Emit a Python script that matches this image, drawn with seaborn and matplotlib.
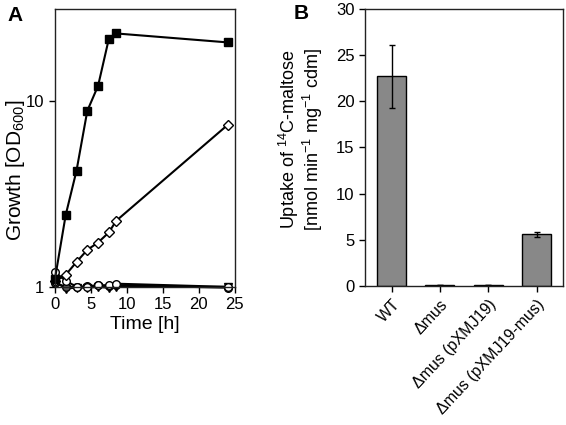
import matplotlib
matplotlib.use("Agg")
import matplotlib.pyplot as plt
import numpy as np
import pandas as pd
import seaborn as sns

# growth curves (panel A)
time_h = [0, 1.5, 3, 4.5, 6, 7.5, 8.5, 24]
od_wt = [1.1, 2.43, 4.2, 8.8, 12.0, 21.5, 22.9, 20.5]
od_diamond = [1.07, 1.16, 1.36, 1.58, 1.73, 1.96, 2.26, 7.4]
od_open_circle = [1.2, 1.08, 1.0, 1.0, 1.02, 1.02, 1.04, 1.0]
od_triangle = [1.07, 0.98, 0.99, 0.99, 1.0, 0.99, 1.0, 1.0]
od_grey_circle = [1.05, 1.0, 1.0, 1.01, 1.02, 1.01, 1.02, 0.99]

# maltose uptake (panel B)
strains = ["WT", "Δmus", "Δmus (pXMJ19)", "Δmus (pXMJ19-mus)"]
uptake = [22.7, 0.1, 0.1, 5.6]
uptake_err = [3.4, 0.0, 0.0, 0.3]

sns.set_style("ticks")
plt.rcParams["font.family"] = ["Liberation Sans", "DejaVu Sans"]
plt.rcParams["mathtext.fontset"] = "custom"
plt.rcParams["mathtext.rm"] = "Liberation Sans"
plt.rcParams["mathtext.it"] = "Liberation Sans:italic"
plt.rcParams["text.color"] = "black"
plt.rcParams["axes.labelcolor"] = "black"
plt.rcParams["xtick.color"] = "black"
plt.rcParams["ytick.color"] = "black"
plt.rcParams["axes.edgecolor"] = "#222222"

fig = plt.figure(figsize=(5.66, 4.25), dpi=100)
ax_a = fig.add_axes([0.097, 0.325, 0.318, 0.654])
ax_b = fig.add_axes([0.645, 0.327, 0.350, 0.652])

series = [
    (od_triangle, "v", "black"),
    (od_grey_circle, "o", "#555555"),
    (od_open_circle, "o", "white"),
    (od_diamond, "D", "white"),
    (od_wt, "s", "black"),
]
for vals, mk, fc in series:
    df = pd.DataFrame({"t": time_h, "od": vals})
    sns.lineplot(data=df, x="t", y="od", ax=ax_a, color="black", lw=1.5,
                 marker=mk, markersize=5.5 if mk != "D" else 5, markerfacecolor=fc,
                 markeredgecolor="black", markeredgewidth=1.0, clip_on=False)

ax_a.set_yscale("log")
ax_a.set_ylim(1, 31)
ax_a.set_xlim(0, 25)
ax_a.set_xticks([0, 5, 10, 15, 20, 25])
ax_a.set_yticks([1, 10])
ax_a.set_yticklabels(["1", "10"])
ax_a.yaxis.set_minor_locator(matplotlib.ticker.NullLocator())
ax_a.set_xlabel("Time [h]", fontsize=14, labelpad=3)
ax_a.set_ylabel("Growth [OD$_{600}$]", fontsize=15)
ax_a.yaxis.set_label_coords(-0.155, 0.42)
ax_a.tick_params(labelsize=12, length=4, width=1)
for s in ax_a.spines.values():
    s.set_linewidth(1.0)
fig.text(0.014, 0.95, "A", fontsize=15, fontweight="bold", va="baseline")

bdf = pd.DataFrame({"strain": strains, "uptake": uptake})
sns.barplot(data=bdf, x="strain", y="uptake", ax=ax_b, color="#888888",
            width=0.6, edgecolor="black", linewidth=1.0, saturation=1)
ax_b.errorbar(np.arange(len(strains)), uptake, yerr=uptake_err, fmt="none",
              ecolor="black", elinewidth=1.0, capsize=2.5)
ax_b.set_ylim(0, 30)
ax_b.set_xlim(-0.55, 3.55)
ax_b.set_yticks(range(0, 31, 5))
ax_b.set_xlabel("")
ax_b.set_ylabel("Uptake of $^{14}$C-maltose\n[nmol min$^{-1}$ mg$^{-1}$ cdm]",
                fontsize=13, linespacing=1.0)
ax_b.yaxis.set_label_coords(-0.2, 0.53)
ax_b.tick_params(labelsize=12, length=4, width=1)
plt.setp(ax_b.get_xticklabels(), rotation=47, ha="right", rotation_mode="anchor",
         fontsize=11.5)
for s in ax_b.spines.values():
    s.set_linewidth(1.0)
fig.text(0.518, 0.955, "B", fontsize=15, fontweight="bold", va="baseline")

fig.savefig("out.png", dpi=100)
